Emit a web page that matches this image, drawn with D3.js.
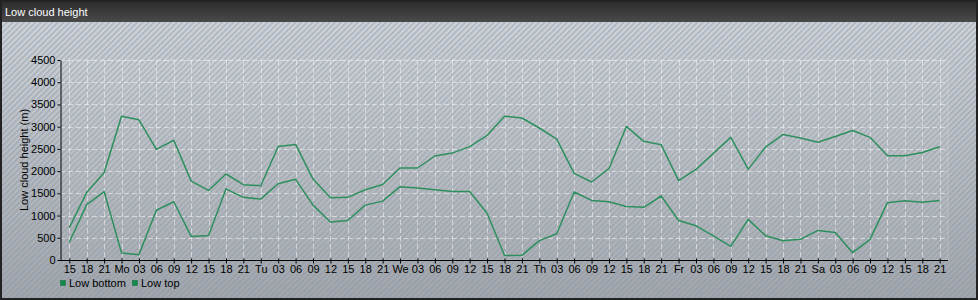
<!DOCTYPE html>
<html><head><meta charset="utf-8">
<script src="https://cdn.jsdelivr.net/npm/d3@7"></script>
<style>html,body{margin:0;padding:0;background:#fff;}svg{display:block;font-family:"Liberation Sans",Arial,sans-serif;}</style>
</head><body>
<script>
const title = "Low cloud height";
const yTitle = "Low cloud height (m)";
const tickLabels = ["15","18","21",
 "Mo","03","06","09","12","15","18","21",
 "Tu","03","06","09","12","15","18","21",
 "We","03","06","09","12","15","18","21",
 "Th","03","06","09","12","15","18","21",
 "Fr","03","06","09","12","15","18","21",
 "Sa","03","06","09","12","15","18","21"];
const lowBottom = [400,1245,1540,160,120,1120,1310,530,550,1600,1410,1370,1715,1815,1235,855,890,1235,
 1325,1650,1620,1580,1540,1540,1050,100,105,435,590,1530,1340,1310,1205,1185,1440,890,
 770,545,305,915,545,435,465,665,620,165,465,1290,1335,1300,1340];
const lowTop = [725,1520,1970,3235,3155,2490,2695,1775,1565,1935,1695,1670,2555,2600,1820,1400,1410,1580,
 1700,2070,2070,2340,2405,2550,2805,3235,3195,2970,2720,1950,1755,2055,3005,2670,2595,1785,
 2040,2400,2760,2045,2540,2825,2745,2650,2780,2915,2760,2345,2345,2420,2550];
const yTicks = [0,500,1000,1500,2000,2500,3000,3500,4000,4500];
const seriesNames = ["Low bottom","Low top"];

(function(){
const W=978,H=300;
const svg=d3.select("body").append("svg").attr("width",W).attr("height",H);
const defs=svg.append("defs");
const bg=defs.append("linearGradient").attr("id","bg").attr("x1",0).attr("y1",0).attr("x2",0).attr("y2",1);
bg.append("stop").attr("offset","0%").attr("stop-color","#d3d7db");
bg.append("stop").attr("offset","100%").attr("stop-color","#a2a6aa");
const tb=defs.append("linearGradient").attr("id","tb").attr("x1",0).attr("y1",0).attr("x2",0).attr("y2",1);
tb.append("stop").attr("offset","0%").attr("stop-color","#2a2a2a");
tb.append("stop").attr("offset","100%").attr("stop-color","#4a4a4a");
const pat=defs.append("pattern").attr("id","hatch").attr("patternUnits","userSpaceOnUse")
 .attr("width",4).attr("height",4).attr("patternTransform","rotate(45)");
pat.append("rect").attr("x",0).attr("y",0).attr("width",1.6).attr("height",4).attr("fill","#8593a8").attr("opacity",0.5);

svg.append("rect").attr("x",0).attr("y",0).attr("width",W).attr("height",H).attr("fill","url(#bg)");
svg.append("rect").attr("x",0).attr("y",22).attr("width",W).attr("height",H-22).attr("fill","url(#hatch)");
svg.append("rect").attr("x",0).attr("y",0).attr("width",W).attr("height",22).attr("fill","url(#tb)");
svg.append("rect").attr("x",1).attr("y",1).attr("width",W-2).attr("height",H-2).attr("fill","none").attr("stroke","#222").attr("stroke-width",2);
svg.append("text").attr("x",5).attr("y",16).attr("fill","#fff").attr("font-size",11).text(title);

const pL=60,pR=948,pT=60,pB=260;
const x=d3.scaleLinear().domain([0,tickLabels.length-1]).range([69.3,939.7]);
const y=d3.scaleLinear().domain([0,4500]).range([pB,pT]);

svg.append("rect").attr("x",pL).attr("y",pT).attr("width",pR-pL).attr("height",pB-pT)
 .attr("fill","rgba(255,255,255,0.04)").attr("stroke","rgba(255,255,255,0.18)");

const grid=svg.append("g").attr("stroke","#f2f2f2").attr("stroke-opacity",0.6).attr("stroke-dasharray","5,3").attr("stroke-width",1);
grid.selectAll("line.h").data(yTicks.filter(d=>d>0)).join("line").attr("class","h")
 .attr("x1",pL).attr("x2",pR).attr("y1",d=>Math.round(y(d))+0.5).attr("y2",d=>Math.round(y(d))+0.5);
grid.selectAll("line.v").data(d3.range(tickLabels.length)).join("line").attr("class","v")
 .attr("x1",d=>Math.round(x(d))+0.5).attr("x2",d=>Math.round(x(d))+0.5).attr("y1",pT).attr("y2",pB);

const xAxis=d3.axisBottom(x).tickValues(d3.range(tickLabels.length)).tickFormat(i=>tickLabels[i]).tickSize(3).tickPadding(2).tickSizeOuter(0);
const gx=svg.append("g").attr("transform",`translate(0,${pB+0.5})`).call(xAxis);
gx.select(".domain").attr("d",`M${pL},0H${pR}`).attr("stroke","#000");
gx.selectAll(".tick line").attr("stroke","#000").attr("y1",-2);
gx.selectAll(".tick text").attr("fill","#000").attr("font-size",11).attr("font-family","Liberation Sans, Arial, sans-serif");

const yAxis=d3.axisLeft(y).tickValues(yTicks).tickFormat(d3.format("d")).tickSize(3).tickPadding(2).tickSizeOuter(0);
const gy=svg.append("g").attr("transform",`translate(${pL+0.5},0)`).call(yAxis);
gy.select(".domain").attr("stroke","#000");
gy.selectAll(".tick line").attr("stroke","#000");
gy.selectAll(".tick text").attr("fill","#000").attr("font-size",11).attr("font-family","Liberation Sans, Arial, sans-serif");

svg.append("text").attr("transform","translate(28,160) rotate(-90)").attr("text-anchor","middle")
 .attr("font-size",11).attr("fill","#000").text(yTitle);

const line=d3.line().x((d,i)=>x(i)).y(d=>y(d));
[lowBottom,lowTop].forEach(s=>{
 svg.append("path").datum(s).attr("d",line).attr("fill","none").attr("stroke","#2e8f5e").attr("stroke-width",1.5).attr("stroke-linejoin","round");
});

const leg=svg.append("g");
const lx=[60.5,132.5];
seriesNames.forEach((n,i)=>{
 leg.append("rect").attr("x",lx[i]).attr("y",280.5).attr("width",5).attr("height",5).attr("fill","#14894a").attr("stroke","#0d6b38").attr("stroke-width",0.5);
 leg.append("text").attr("x",lx[i]+8.5).attr("y",287).attr("font-size",11).attr("fill","#000").text(n);
});
})();
</script>
</body></html>
